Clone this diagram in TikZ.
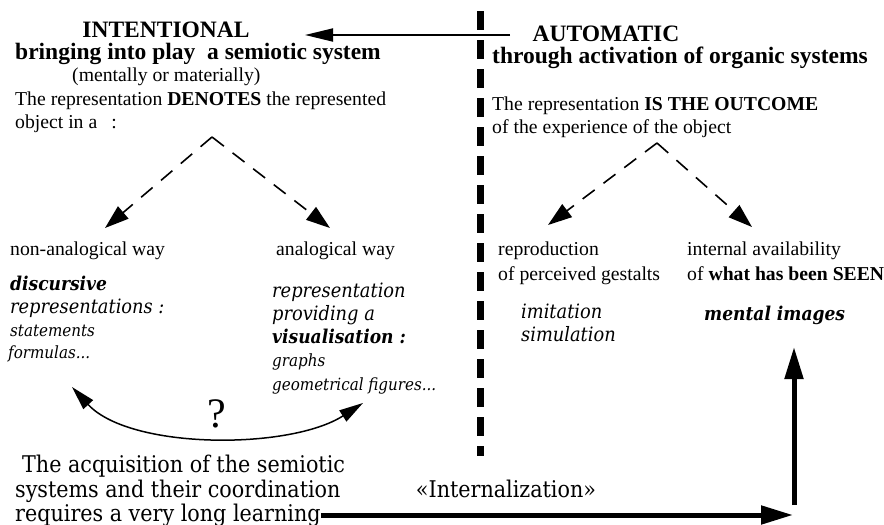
\documentclass[tikz,border=0pt]{standalone}
\usepackage{fontspec}
\setmainfont{Liberation Serif}
\newfontfamily\condserif{DejaVu Serif Condensed}
\usetikzlibrary{arrows.meta}

\tikzset{
  headtxt/.style={font=\fontsize{23.5}{26}\selectfont\bfseries, anchor=base, inner sep=0pt},
  subtxt/.style={font=\fontsize{23.5}{26}\selectfont\bfseries, anchor=base west, inner sep=0pt},
  plaintxt/.style={font=\fontsize{19.7}{22}\selectfont, anchor=base west, inner sep=0pt},
  ittxt/.style={font=\condserif\itshape\fontsize{19.8}{22}\selectfont, anchor=base west, inner sep=0pt},
  bittxt/.style={font=\condserif\bfseries\itshape\fontsize{19}{22}\selectfont, anchor=base west, inner sep=0pt},
  smalltxt/.style={font=\condserif\itshape\fontsize{16.8}{20}\selectfont, anchor=base west, inner sep=0pt},
  condtxt/.style={font=\condserif\fontsize{23}{26}\selectfont, inner sep=0pt},
  divider/.style={line width=7pt, dash pattern=on 19pt off 10pt},
  dasharrow/.style={line width=1.6pt, dash pattern=on 15pt off 11pt, -{Triangle[length=24pt,width=16pt]}},
  thinarrow/.style={line width=1.8pt, -{Triangle[length=28pt,width=13pt]}},
  curvearrow/.style={line width=1.5pt, {Triangle[length=24pt,width=13pt]}-{Triangle[length=24pt,width=13pt]}},
  bigarrow/.style={line width=5pt, -{Triangle[length=32pt,width=18pt]}}
}

\begin{document}
\begin{tikzpicture}[x=1pt,y=-1pt]
\useasboundingbox (0,0) rectangle (884,525);

% left column : intentional
\node[headtxt] (intent) at (166,37) {INTENTIONAL};
\node[subtxt] (bring) at (15,59) {bringing into play\ \ a semiotic system};
\node[plaintxt] (mentally) at (72,81) {(mentally or materially)};
\node[plaintxt] (denotes) at (15,105) {The representation \textbf{DENOTES} the represented};
\node[plaintxt] (objectin) at (15,128) {object in a\hspace{14pt}:};

% right column : automatic
\node[headtxt] (automatic) at (606,41) {AUTOMATIC};
\node[subtxt] (through) at (492,63) {through activation of organic systems};
\node[plaintxt] (outcome) at (492,110) {The representation \textbf{IS THE OUTCOME}};
\node[plaintxt] (experience) at (492,133) {of the experience of the object};

\coordinate (topstart) at (510,35);
\coordinate (toptip) at (305,35);
\draw[thinarrow] (topstart) -- (toptip);

% dashed divider
\coordinate (divtop) at (480,11);
\coordinate (divbot) at (480,456);
\draw[divider] (divtop) -- (divbot);

% the two ways
\coordinate (leftapex) at (212,137);
\coordinate (nonanatip) at (105,228);
\coordinate (anatip) at (330,228);
\draw[dasharrow] (leftapex) -- (nonanatip);
\draw[dasharrow] (leftapex) -- (anatip);

\node[plaintxt] (nonana) at (10,255) {non-analogical way};
\node[plaintxt] (ana) at (276,255) {analogical way};

\node[bittxt] (discursive) at (10,290) {discursive};
\node[ittxt] (reps) at (10,313) {representations :};
\node[smalltxt] (statements) at (10,336) {statements};
\node[smalltxt] (formulas) at (8,358) {formulas...};

\node[ittxt] (repr) at (272,297) {representation};
\node[ittxt] (providing) at (272,320) {providing a};
\node[bittxt] (visual) at (272,343) {visualisation :};
\node[smalltxt] (graphs) at (272,366) {graphs};
\node[smalltxt] (geom) at (272,390) {geometrical figures...};

% question between both
\coordinate (qleft) at (72,387);
\coordinate (qright) at (363,403);
\draw[curvearrow] (qleft) .. controls (130,450) and (290,450) .. (qright);
\node[font=\fontsize{42}{44}\selectfont, anchor=base, inner sep=0pt] (question) at (217,427) {?};

% automatic side
\coordinate (rightapex) at (657,143);
\coordinate (reprodtip) at (548,225);
\coordinate (internaltip) at (752,227);
\draw[dasharrow] (rightapex) -- (reprodtip);
\draw[dasharrow] (rightapex) -- (internaltip);

\node[plaintxt] (reprod) at (498,255) {reproduction};
\node[plaintxt] (perceived) at (498,280) {of perceived gestalts};
\node[plaintxt] (internal) at (687,255) {internal availability};
\node[plaintxt] (seen) at (687,280) {of \textbf{what has been SEEN}};

\node[ittxt] (imitation) at (521,318) {imitation};
\node[ittxt] (simulation) at (521,341) {simulation};
\node[bittxt] (images) at (704,320) {mental images};

% learning and internalization
\node[condtxt, anchor=base west] (acq1) at (22,472) {The acquisition of the semiotic};
\node[condtxt, anchor=base west] (acq2) at (15,497) {systems and their coordination};
\node[condtxt, anchor=base west] (acq3) at (15,521) {requires a very long learning};
\node[condtxt, anchor=base] (intern) at (506,497) {«Internalization»};

\coordinate (learnend) at (793,515);
\coordinate (upbottom) at (794,505);
\coordinate (uptip) at (794,347);
\draw[bigarrow] (acq3.east |- learnend) -- (learnend);
\draw[bigarrow] (upbottom) -- (uptip);

\end{tikzpicture}
\end{document}
